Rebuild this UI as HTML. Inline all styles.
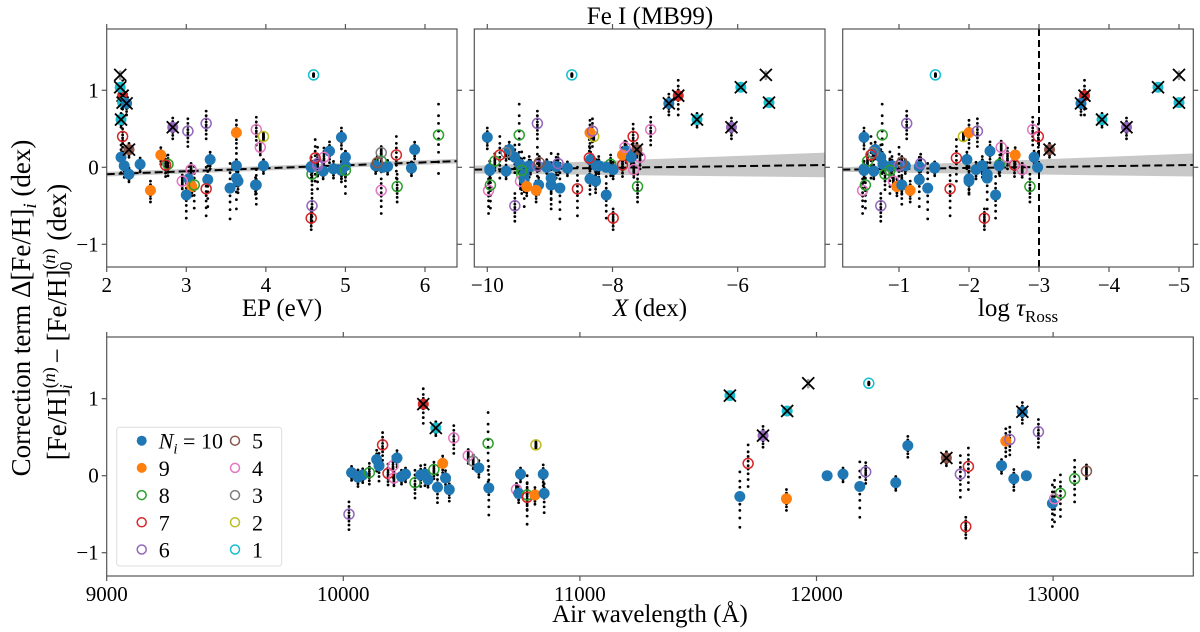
<!DOCTYPE html>
<html><head><meta charset="utf-8"><style>
html,body{margin:0;padding:0;background:#fff;}
svg{display:block;font-family:"Liberation Serif",serif;}
</style></head><body>
<svg id="chart" width="1200" height="632" viewBox="0 0 1200 632" xmlns="http://www.w3.org/2000/svg">
<text x="650" y="24" font-size="25" text-anchor="middle">Fe I (MB99)</text>
<text transform="translate(30,308) rotate(-90)" font-size="27" text-anchor="middle">Correction term Δ[Fe/H]<tspan font-style="italic" font-size="19" dy="6">i</tspan><tspan dy="-6">  (dex)</tspan></text>
<text transform="translate(66,322) rotate(-90)" font-size="27" text-anchor="middle">[Fe/H]<tspan font-size="18" dy="-11">(<tspan font-style="italic">n</tspan>)</tspan><tspan font-size="18" font-style="italic" dx="-22" dy="17">i</tspan><tspan dy="-6" dx="14"> − [Fe/H]</tspan><tspan font-size="18" dy="-11">(<tspan font-style="italic">n</tspan>)</tspan><tspan font-size="18" dx="-22" dy="17">0</tspan><tspan dy="-6" dx="14">  (dex)</tspan></text>
<text x="282" y="316" font-size="25" text-anchor="middle">EP  (eV)</text>
<text x="650" y="316" font-size="25" text-anchor="middle"><tspan font-style="italic">X</tspan>  (dex)</text>
<text x="1018" y="316" font-size="25" text-anchor="middle">log <tspan font-style="italic">τ</tspan><tspan font-size="17" dy="6">Ross</tspan></text>
<text x="650" y="622" font-size="25" text-anchor="middle">Air wavelength  (Å)</text>
<g id="layer"></g>
</svg>
<script>
// line data: wavelength, value, N_i, x-flag, EP, X, logtau, spread
const wavelengths=[10024,10035,10062,10082,10110,10141,10151,10166,10189,10210,10214,10227,10246,10263,10303,10327,10338,10345,10358,10383,10391,10398,10420,10432,10448,10467,10528,10549,10573,10612,10615,10732,10741,10749,10777,10777,10810,10814,10845,10849,11634,11676,11711,11774,11876,11873,11965,12045,12112,12183,12208,12221,12335,12386,12549,12608,12642,12631,12782,12800,12817,12834,12870,12887,12938,12997,13006,13031,13091,13141];
const values=[-0.5,0.04,-0.02,0.01,0.04,0.21,0.13,0.4,0.03,0.13,-0.03,0.23,-0.01,0.02,-0.09,0.01,0.93,0.02,-0.05,0.08,0.62,-0.15,0.16,-0.03,-0.18,0.49,0.26,0.19,0.1,0.42,-0.16,-0.18,-0.23,0.02,-0.25,-0.28,-0.25,0.4,0.02,-0.23,1.04,-0.27,0.16,0.52,0.84,-0.3,1.2,0.0,0.02,-0.14,0.05,1.2,-0.09,0.39,0.23,0.02,0.12,-0.66,0.13,0.45,0.47,-0.04,0.83,0.0,0.57,-0.36,-0.3,-0.23,-0.04,0.06];
const nvals=[6,10,10,10,8,10,10,7,7,4,4,10,10,10,8,10,7,10,10,8,1,10,9,10,10,4,4,3,10,8,10,4,10,10,8,7,9,2,10,10,1,10,7,6,1,9,0,10,10,10,6,1,10,10,5,6,7,7,10,9,6,10,10,10,6,10,4,8,8,5];
const xflags=[0,0,0,0,0,0,0,0,0,0,0,0,0,0,0,0,1,0,0,0,1,0,0,0,0,0,0,0,0,0,0,0,0,0,0,0,0,0,0,0,1,0,0,1,1,0,1,0,0,0,0,0,0,0,1,0,0,0,0,0,0,0,1,0,0,0,0,0,0,0];
const epvals=[4.58,2.42,4.85,5.53,2.77,4.8,2.18,2.2,2.74,4.73,3.06,5.87,5.83,3.97,4.58,4.57,2.2,5.0,4.72,5.45,2.18,3.03,2.68,4.95,3.65,3.88,3.93,5.45,3.3,6.17,3.27,2.95,3.87,3.63,5.65,3.25,3.07,3.97,2.22,3.88,2.17,3.55,5.64,2.83,2.2,2.55,2.17,4.57,5.38,3.63,4.65,4.6,2.28,4.95,2.28,4.65,4.62,4.57,5.0,3.63,3.02,4.95,2.25,5.47,3.25,3.0,5.45,3.1,5.0,5.4];
const xvals=[-9.56,-9.48,-9.96,-9.31,-8.03,-7.78,-9.56,-7.67,-7.84,-7.56,-7.66,-9.65,-8.72,-9.05,-9.45,-8.9,-6.95,-8.22,-9.7,-9.88,-6.65,-8.36,-7.84,-7.99,-8.27,-7.39,-7.8,-9.7,-8.35,-9.49,-9.41,-9.47,-9.18,-8.26,-7.6,-8.56,-9.37,-8.3,-9.33,-8.98,-5.95,-8.84,-9.8,-6.1,-5.5,-9.22,-5.55,-8.1,-8.22,-8.98,-8.87,-8.65,-9.41,-10.0,-7.61,-9.2,-8.37,-7.99,-7.7,-8.36,-8.32,-9.96,-7.1,-9.05,-9.2,-8.1,-9.98,-9.95,-9.45,-9.17];
const tauvals=[-0.74,-0.77,-0.5,-0.87,-2.44,-2.3,-0.74,-2.99,-2.65,-2.55,-2.76,-0.66,-1.51,-1.09,-0.8,-1.29,-3.65,-2.19,-0.64,-0.55,-3.9,-2.0,-2.66,-2.1,-2.0,-2.91,-2.46,-0.63,-1.97,-0.76,-1.29,-0.92,-1.04,-2.43,-2.87,-1.73,-0.97,-1.92,-0.9,-1.04,-4.7,-1.41,-0.6,-4.25,-5.0,-1.16,-5.0,-1.51,-2.19,-2.26,-1.31,-1.52,-2.26,-0.5,-3.15,-1.0,-1.82,-2.22,-2.93,-2.0,-2.12,-0.5,-3.6,-2.98,-1.11,-2.38,-0.48,-0.52,-0.87,-1.04];
const spreads=[0.2,0.1,0.12,0.1,0.15,0.15,0.2,0.2,0.15,0.15,0.1,0.12,0.1,0.1,0.2,0.15,0.25,0.15,0.1,0.12,0.1,0.2,0.12,0.12,0.15,0.2,0.1,0.1,0.12,0.5,0.35,0.1,0.12,0.1,0.2,0.35,0.12,0.05,0.15,0.25,0.05,0.4,0.3,0.15,0.05,0.15,0.05,0.05,0.1,0.4,0.15,0.02,0.1,0.15,0.1,0.3,0.3,0.15,0.1,0.2,0.2,0.15,0.15,0.05,0.2,0.3,0.3,0.3,0.3,0.1];
const dotPattern=[-1,-0.7,-0.45,-0.25,-0.1,0.1,0.3,0.5,0.8];
const epTicks=[2,3,4,5,6];
const xTicks=[-10,-8,-6];
const tauTicks=[-1,-2,-3,-4,-5];
const wlTicks=[9000,10000,11000,12000,13000];
const valTicks=[-1,0,1];
const trendEP=[[2,-0.09],[6.4,0.08]];
const trendX=[[-10.21,-0.03],[-4.6,0.03]];
const trendTau=[[-0.19,-0.03],[-5.2,0.03]];
const colors=["#000","#17becf","#bcbd22","#7f7f7f","#e377c2","#8c564b","#9467bd","#d62728","#2ca02c","#ff7f0e","#1f77b4"];
const legendNs=[10,9,8,7,6,5,4,3,2,1];

const NS="http://www.w3.org/2000/svg";
const layer=document.getElementById('layer');
function mk(tag,attrs,parent){const e=document.createElementNS(NS,tag);for(const k in attrs)e.setAttribute(k,attrs[k]);(parent||layer).appendChild(e);return e;}
function lin(d0,d1,p0,p1){return v=>p0+(v-d0)*(p1-p0)/(d1-d0);}

const panels=[
 {name:'ep',L:106.7,R:457,T:29,B:267,xs:lin(2,6,106.7,425),ys:lin(0,1,167.3,90.3),ticks:epTicks,xv:epvals,trend:trendEP,band:[0.03,0.03],lbl:v=>String(v)},
 {name:'x',L:474.3,R:825,T:29,B:267,xs:lin(-10,-6,487.3,737.7),ys:lin(0,1,167.3,90.3),ticks:xTicks,xv:xvals,trend:trendX,band:[0.05,0.16],lbl:v=>'−'+Math.abs(v)},
 {name:'tau',L:842.7,R:1193.3,T:29,B:267,xs:lin(-1,-5,899,1179),ys:lin(0,1,167.3,90.3),ticks:tauTicks,xv:tauvals,trend:trendTau,band:[0.03,0.15],lbl:v=>'−'+Math.abs(v),vline:-3},
 {name:'wavelength',L:106.7,R:1193.3,T:337,B:576,xs:lin(9000,10000,106.7,343.3),ys:lin(0,1,475.7,398.7),ticks:wlTicks,xv:wavelengths,lbl:v=>String(v)}
];

panels.forEach(p=>{
  const g=mk('g',{});
  
  
  const cp=mk('clipPath',{id:'cp-'+p.name},g);
  mk('rect',{x:p.L,y:p.T,width:p.R-p.L,height:p.B-p.T},cp);
  const inner=mk('g',{'clip-path':'url(#cp-'+p.name+')'},g);
  if(p.trend){
    const [a,b]=p.trend;
    const band=mk('polygon',{points:[
      [p.xs(a[0]),p.ys(a[1]+p.band[0])],[p.xs(b[0]),p.ys(b[1]+p.band[1])],
      [p.xs(b[0]),p.ys(b[1]-p.band[1])],[p.xs(a[0]),p.ys(a[1]-p.band[0])]].map(q=>q.join(',')).join(' '),fill:'#c8c8c8'},inner);
    
    
  }
  if(p.vline!==undefined){
    const vl=mk('line',{x1:p.xs(p.vline),x2:p.xs(p.vline),y1:p.T,y2:p.B,stroke:'#000','stroke-width':2,'stroke-dasharray':'7,4'},inner);
    
    
  }
  for(let i=0;i<values.length;i++){
    const x=p.xs(p.xv[i]);
    for(let k=0;k<dotPattern.length;k++){
      const d=mk('circle',{cx:x,cy:p.ys(values[i]+spreads[i]*dotPattern[(k+i)%dotPattern.length]),r:1.4,fill:'#000'},inner);
      
      
    }
  }
  if(p.trend){
    const [a,b]=p.trend;
    const tl=mk('line',{x1:p.xs(a[0]),y1:p.ys(a[1]),x2:p.xs(b[0]),y2:p.ys(b[1]),stroke:'#000','stroke-width':2,'stroke-dasharray':'8,4'},inner);
    
    
  }
  for(let i=0;i<values.length;i++){
    const x=p.xs(p.xv[i]),y=p.ys(values[i]),n=nvals[i],c=colors[n];
    let m;
    if(n===0){ m=mk('circle',{cx:x,cy:y,r:5.5,fill:'#fff','fill-opacity':0.6},inner); }
    else if(n>=9||xflags[i]){ m=mk('circle',{cx:x,cy:y,r:5.5,fill:c},inner); }
    else { m=mk('circle',{cx:x,cy:y,r:5,fill:'none',stroke:c,'stroke-width':1.5},inner); }
    
    
    if(xflags[i]){
      const xm=mk('path',{d:`M${x-6},${y-6}L${x+6},${y+6}M${x-6},${y+6}L${x+6},${y-6}`,stroke:'#000','stroke-width':1.8},inner);
      
      
    }
  }
  const fr=mk('rect',{x:p.L,y:p.T,width:p.R-p.L,height:p.B-p.T,fill:'none',stroke:'#555','stroke-width':1.2},g);
  
  
  p.ticks.forEach(t=>{
    const x=p.xs(t);
    mk('line',{x1:x,x2:x,y1:p.B,y2:p.B+5,stroke:'#555','stroke-width':1.2},g);
    mk('line',{x1:x,x2:x,y1:p.T,y2:p.T-5,stroke:'#555','stroke-width':1.2},g);
    const tx=mk('text',{x:x,y:p.B+25,'font-size':21,'text-anchor':'middle'},g);
    tx.textContent=p.lbl(t);
    
    
  });
  valTicks.forEach(t=>{
    const y=p.ys(t);
    mk('line',{x1:p.L-5,x2:p.L,y1:y,y2:y,stroke:'#555','stroke-width':1.2},g);
    mk('line',{x1:p.R,x2:p.R+5,y1:y,y2:y,stroke:'#555','stroke-width':1.2},g);
    if(p.name==='ep'||p.name==='wavelength'){
      const tx=mk('text',{x:p.L-8,y:y+7,'font-size':21,'text-anchor':'end'},g);
      tx.textContent=t<0?'−'+Math.abs(t):String(t);
      
      
    }
  });
});

const lg=mk('g',{});


mk('rect',{x:116.7,y:427.3,width:165,height:138.7,rx:3,fill:'#fff',stroke:'#ddd','stroke-width':1},lg);
legendNs.forEach((n,k)=>{
  const col=k<5?0:1,row=k%5;
  const mx=col?235:141.7,my=440.7+row*27.2;
  const e=mk('g',{},lg);
  
  
  if(n>=9) mk('circle',{cx:mx,cy:my,r:5,fill:colors[n]},e);
  else mk('circle',{cx:mx,cy:my,r:4.5,fill:'none',stroke:colors[n],'stroke-width':1.5},e);
  const t=mk('text',{x:mx+17,y:my+8,'font-size':22},e);
  if(n===10){t.innerHTML='<tspan font-style="italic">N</tspan><tspan font-style="italic" font-size="15" dy="5">i</tspan><tspan dy="-5"> = 10</tspan>';}
  else t.textContent=String(n);
});
</script>
</body></html>
